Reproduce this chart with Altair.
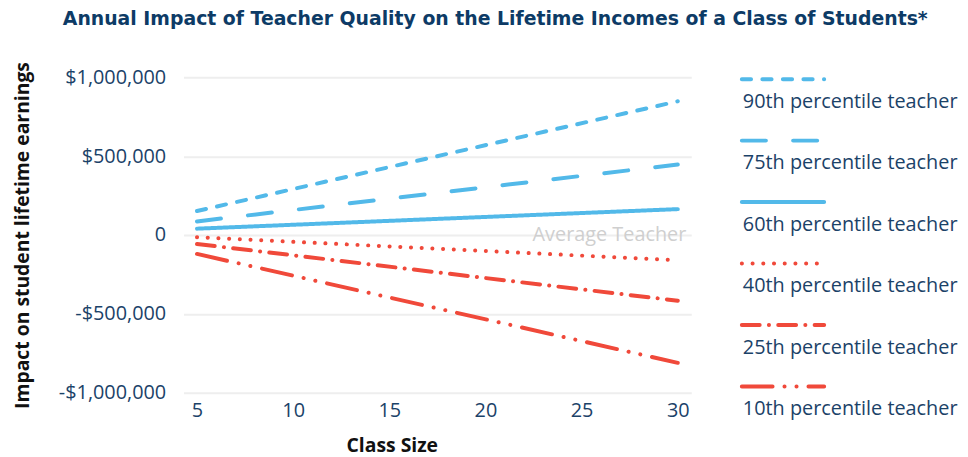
import altair as alt
import pandas as pd

series = ["90th percentile teacher", "75th percentile teacher", "60th percentile teacher",
          "40th percentile teacher", "25th percentile teacher", "10th percentile teacher"]
class_size_start = 5
class_size_end = 30
impact_at_5 = [152000, 86000, 40000, -14000, -57000, -120000]
impact_at_30 = [848000, 447000, 164000, -160000, -417000, -811000]
x_ticks = [5, 10, 15, 20, 25, 30]
y_ticks = [-1000000, -500000, 0, 500000, 1000000]

BLUE = "#52B9E9"
RED = "#F0493A"
colors = [BLUE, BLUE, BLUE, RED, RED, RED]
dashes = [[9.3, 11.4], [24.3, 27.4], [1, 0], [0.1, 10.7],
          [18, 9.3, 0.1, 9.3], [31, 12, 0.1, 12, 0.1, 12]]
TEXT = "#1B4268"
FONT = "Open Sans"

rows = []
for s, a, b in zip(series, impact_at_5, impact_at_30):
    rows.append({"series": s, "size": class_size_start, "impact": a})
    rows.append({"series": s, "size": class_size_end, "impact": b})
df = pd.DataFrame(rows)

color_scale = alt.Scale(domain=series, range=colors)
dash_scale = alt.Scale(domain=series, range=dashes)

x_enc = alt.X("size:Q", scale=alt.Scale(domain=[4.3, 30.7], nice=False, zero=False),
              axis=alt.Axis(values=x_ticks, title="Class Size", grid=False, domain=False,
                            ticks=False, tickSize=0, labelPadding=8, titlePadding=16,
                            titleX=210, titleAnchor="middle"))
y_enc = alt.Y("impact:Q", scale=alt.Scale(domain=[-1000000, 1000000], nice=False),
              axis=alt.Axis(values=y_ticks, title="Impact on student lifetime earnings",
                            domain=False, ticks=False, tickSize=0, labelPadding=18,
                            titlePadding=26, gridColor="#EEEEEE", gridWidth=2,
                            labelExpr="datum.value == 0 ? '0' : (datum.value < 0 ? '-$' : '$') + format(abs(datum.value), ',')"))

lines = alt.Chart(df).mark_line(strokeWidth=4, strokeCap="round").encode(
    x=x_enc, y=y_enc,
    color=alt.Color("series:N", scale=color_scale, legend=None),
    strokeDash=alt.StrokeDash("series:N", scale=dash_scale, legend=None),
    detail="series:N",
)

avg = pd.DataFrame({"size": [30.7], "impact": [0], "label": ["Average Teacher"]})
avg_text = alt.Chart(avg).mark_text(align="right", baseline="middle", dx=-5, fontSize=20,
                                    font=FONT, color="#CFCFCF").encode(
    x="size:Q", y="impact:Q", text="label:N")

main = alt.layer(lines, avg_text).properties(width=512, height=318)

leg = pd.DataFrame({"series": series, "row": list(range(len(series)))})
ly = alt.Y("row:Q", scale=alt.Scale(domain=[-0.03, 5.1], reverse=True, nice=False), axis=None)
lx_scale = alt.Scale(domain=[0, 2.65], nice=False, zero=False)
sym = alt.Chart(leg).mark_rule(strokeWidth=4, strokeCap="round").encode(
    x=alt.X(datum=0, type="quantitative", scale=lx_scale, axis=None),
    x2=alt.X2(datum=1),
    y=ly,
    color=alt.Color("series:N", scale=color_scale, legend=None),
    strokeDash=alt.StrokeDash("series:N", scale=dash_scale, legend=None),
)
lab = alt.Chart(leg).mark_text(align="left", baseline="middle", dy=23, dx=1, fontSize=20,
                               font=FONT, color=TEXT).encode(
    x=alt.X(datum=0, type="quantitative", scale=lx_scale, axis=None),
    y=ly, text="series:N")
legend = alt.layer(sym, lab).properties(width=220, height=318)

chart = alt.hconcat(main, legend, spacing=49).properties(
    title=alt.TitleParams("Annual Impact of Teacher Quality on the Lifetime Incomes of a Class of Students*",
                          font="DejaVu Sans", fontSize=19, fontWeight="bold", color="#0D3B66",
                          anchor="middle", offset=33, dx=9),
    padding={"left": 4, "top": 0, "right": 0, "bottom": 0},
).configure_view(stroke=None).configure_axis(
    labelFont=FONT, labelFontSize=20, labelColor=TEXT,
    titleFont=FONT, titleFontSize=19.5, titleFontWeight="bold", titleColor="#111111",
)

chart.save("out.html", embed_options={"renderer": "svg", "actions": False})
